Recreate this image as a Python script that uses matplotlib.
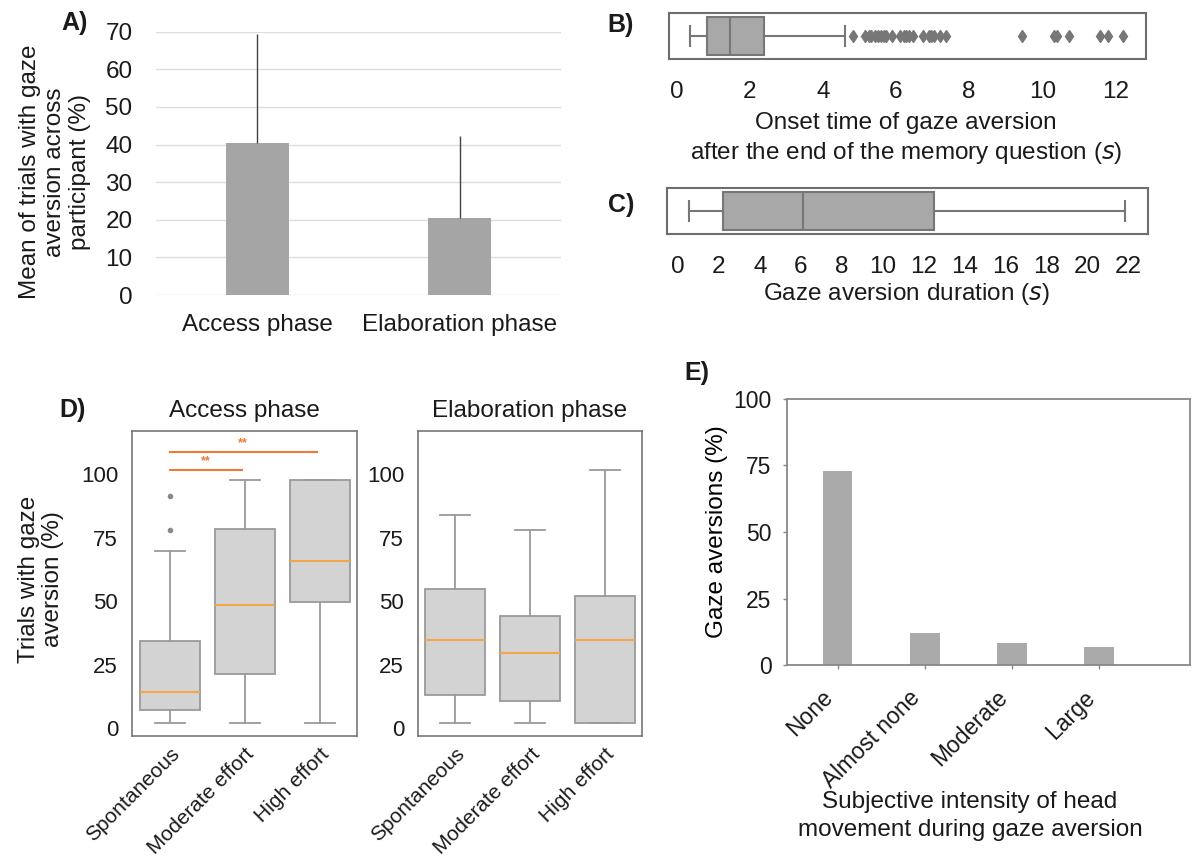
import matplotlib
matplotlib.use("Agg")
import matplotlib.pyplot as plt

plt.rcParams['font.family'] = ['Liberation Sans', 'DejaVu Sans']
plt.rcParams['text.color'] = '#1a1a1a'
plt.rcParams['xtick.color'] = '#1a1a1a'
plt.rcParams['ytick.color'] = '#1a1a1a'

# A) mean of trials with gaze aversion
phases = ["Access phase", "Elaboration phase"]
mean_trials = [40.5, 20.6]
sd_trials = [28.8, 21.8]

# B) onset time (s)
onset_box = [0.37, 0.84, 1.47, 2.4, 4.6]  # whislo, q1, med, q3, whishi
onset_outliers = [4.82, 5.15, 5.26, 5.32, 5.42, 5.5, 5.58, 5.66, 5.74, 5.89,
                  6.1, 6.21, 6.28, 6.36, 6.47, 6.74, 6.89, 6.97, 7.05, 7.21,
                  7.37, 9.44, 10.33, 10.4, 10.72, 11.58, 11.81, 12.21]
onset_ticks = [0, 2, 4, 6, 8, 10, 12]

# C) duration (s)
duration_box = [0.54, 2.2, 6.1, 12.48, 21.81]
duration_ticks = list(range(0, 23, 2))

# D) trials with gaze aversion per effort
effort = ["Spontaneous", "Moderate effort", "High effort"]
access_whislo = [2.2, 2.2, 2.2]
access_q1 = [7.2, 21.3, 49.9]
access_med = [14.4, 48.6, 66.0]
access_q3 = [34.4, 78.4, 97.8]
access_whishi = [69.9, 97.8, 97.8]
access_fliers = [[78.2, 91.6], [], []]

elab_whislo = [2.3, 2.3, 2.3]
elab_q1 = [13.2, 10.6, 2.3]
elab_med = [34.9, 29.6, 34.9]
elab_q3 = [54.9, 44.3, 51.9]
elab_whishi = [83.9, 77.9, 101.8]
elab_fliers = [[], [], []]

sig_pairs = [(1, 2), (1, 3)]
sig_y = [101.7, 108.6]
sig_text = ["**", "**"]

# E) head movement intensity
intensity = ["None", "Almost none", "Moderate", "Large"]
aversion_pct = [72.9, 12.1, 8.4, 6.6]

W, H = 1200, 863
fig = plt.figure(figsize=(W / 100, H / 100), dpi=100)


def px(x0, y0, x1, y1):
    return [x0 / W, 1 - y1 / H, (x1 - x0) / W, (y1 - y0) / H]


def box_stats(lo, q1, med, q3, hi, fl):
    return [dict(whislo=a, q1=b, med=c, q3=d, whishi=e, fliers=f)
            for a, b, c, d, e, f in zip(lo, q1, med, q3, hi, fl)]


# ---- A ----
axA = fig.add_axes(px(156, 31.7, 561, 295))
xa = range(len(phases))
axA.bar(xa, mean_trials, width=0.31, color='#a5a5a5', zorder=2)
axA.errorbar(xa, mean_trials, yerr=[[0, 0], sd_trials], fmt='none',
             ecolor='#444444', elinewidth=1, capsize=0, zorder=3)
axA.set_xlim(-0.5, 1.5)
axA.set_ylim(0, 70)
axA.set_yticks(range(0, 71, 10))
axA.yaxis.grid(True, color='#dedede', lw=1)
axA.set_axisbelow(True)
for s in axA.spines.values():
    s.set_visible(False)
axA.set_xticks(list(xa))
axA.set_xticklabels(phases)
axA.tick_params(axis='y', length=0, pad=17, labelsize=17.5)
axA.tick_params(axis='x', length=0, pad=14, labelsize=17.5)
fig.text(55 / W, 1 - 172 / H, "Mean of trials with gaze\naversion across\nparticipant (%)",
         rotation=90, ha='center', va='center', fontsize=17.5, linespacing=1.2)
fig.text(75 / W, 1 - 23 / H, "A)", fontsize=18, fontweight='bold', ha='center', va='center')

# ---- B / C ----
bc_box = dict(facecolor='#a8a8a8', edgecolor='#777777', linewidth=1.5)
bc_line = dict(color='#777777', linewidth=1.5)
bc_flier = dict(marker='d', markerfacecolor='#777777', markeredgecolor='#777777',
                markersize=6, linestyle='none')

axB = fig.add_axes(px(669, 13, 1146, 59))
statsB = box_stats([onset_box[0]], [onset_box[1]], [onset_box[2]], [onset_box[3]],
                   [onset_box[4]], [onset_outliers])
axB.bxp(statsB, positions=[0], widths=0.83, orientation='horizontal', patch_artist=True,
        boxprops=bc_box, whiskerprops=bc_line, capprops=bc_line,
        medianprops=bc_line, flierprops=bc_flier)
axB.set_xlim(-0.21, 12.84)
axB.set_ylim(-0.5, 0.5)
axB.set_yticks([])
axB.set_xticks(onset_ticks)
axB.set_xticklabels([str(t) for t in onset_ticks])
axB.tick_params(axis='x', length=0, pad=16, labelsize=17.5)
for s in axB.spines.values():
    s.set_color('#6e6e6e')
    s.set_linewidth(1.5)
fig.text(906 / W, 1 - 139 / H, "Onset time of gaze aversion\nafter the end of the memory question ($\\it{s}$)",
         ha='center', va='center', fontsize=17.5, linespacing=1.3)
fig.text(621 / W, 1 - 25 / H, "B)", fontsize=18, fontweight='bold', ha='center', va='center')

axC = fig.add_axes(px(667, 188, 1148, 234))
statsC = box_stats([duration_box[0]], [duration_box[1]], [duration_box[2]], [duration_box[3]],
                   [duration_box[4]], [[]])
axC.bxp(statsC, positions=[0], widths=0.83, orientation='horizontal', patch_artist=True,
        boxprops=bc_box, whiskerprops=bc_line, capprops=bc_line,
        medianprops=bc_line, flierprops=bc_flier)
axC.set_xlim(-0.53, 22.94)
axC.set_ylim(-0.5, 0.5)
axC.set_yticks([])
axC.set_xticks(duration_ticks)
axC.set_xticklabels([str(t) for t in duration_ticks])
axC.tick_params(axis='x', length=0, pad=16, labelsize=17.5)
for s in axC.spines.values():
    s.set_color('#6e6e6e')
    s.set_linewidth(1.5)
fig.text(906 / W, 1 - 294 / H, "Gaze aversion duration ($\\it{s}$)",
         ha='center', va='center', fontsize=17.5)
fig.text(621 / W, 1 - 205 / H, "C)", fontsize=18, fontweight='bold', ha='center', va='center')

# ---- D ----
d_box = dict(facecolor='#d3d3d3', edgecolor='#9a9a9a', linewidth=1.3)
d_line = dict(color='#9a9a9a', linewidth=1.3)
d_med = dict(color='#f5a54a', linewidth=1.5)
d_flier = dict(marker='o', markerfacecolor='#8a8a8a', markeredgecolor='#8a8a8a',
               markersize=3, linestyle='none')
pos = [1, 2, 3]


def draw_d(ax, stats, title):
    ax.bxp(stats, positions=pos, widths=0.8, patch_artist=True, boxprops=d_box,
           whiskerprops=d_line, capprops=d_line, medianprops=d_med, flierprops=d_flier)
    ax.set_xlim(0.5, 3.5)
    ax.set_ylim(-3, 117)
    ax.set_yticks([0, 25, 50, 75, 100])
    ax.set_xticks(pos)
    ax.set_xticklabels(effort, rotation=45, ha='right', rotation_mode='anchor')
    ax.tick_params(axis='y', length=0, pad=10, labelsize=16)
    ax.tick_params(axis='x', length=0, pad=6, labelsize=15)
    for s in ax.spines.values():
        s.set_color('#777777')
        s.set_linewidth(1.2)
    ax.set_title(title, fontsize=17.5, pad=10)


axD1 = fig.add_axes(px(132, 431, 357, 736))
draw_d(axD1, box_stats(access_whislo, access_q1, access_med, access_q3,
                       access_whishi, access_fliers), "Access phase")
for (a, b), y, t in zip(sig_pairs, sig_y, sig_text):
    axD1.plot([a, b - 0.03], [y, y], color='#f07a35', lw=1.5)
    axD1.text((a + b) / 2 - 0.02, y + 1.2, t, color='#f07a35', fontsize=9,
              ha='center', va='bottom', fontweight='bold')

axD2 = fig.add_axes(px(418, 431, 642, 736))
draw_d(axD2, box_stats(elab_whislo, elab_q1, elab_med, elab_q3,
                       elab_whishi, elab_fliers), "Elaboration phase")

fig.text(41 / W, 1 - 579 / H, "Trials with gaze\naversion (%)", rotation=90,
         ha='center', va='center', fontsize=17.5, linespacing=1.15)
fig.text(73 / W, 1 - 410 / H, "D)", fontsize=18, fontweight='bold', ha='center', va='center')

# ---- E ----
axE = fig.add_axes(px(787, 399, 1190, 665))
xe = range(len(intensity))
axE.bar(xe, aversion_pct, width=0.34, color='#aaaaaa')
axE.set_xlim(-0.58, 4.04)
axE.set_ylim(0, 100)
axE.set_yticks([0, 25, 50, 75, 100])
axE.set_xticks(list(xe))
axE.set_xticklabels(intensity, rotation=45, ha='right')
axE.tick_params(axis='both', length=3, width=1, color='#888888', labelsize=16.5)
axE.tick_params(axis='y', pad=8)
axE.tick_params(axis='x', pad=12)
for s in axE.spines.values():
    s.set_color('#888888')
    s.set_linewidth(1.3)
axE.set_ylabel("Gaze aversions (%)", fontsize=17.5, labelpad=4)
fig.text(970 / W, 1 - 816 / H, "Subjective intensity of head\nmovement during gaze aversion",
         ha='center', va='center', fontsize=17.5, linespacing=1.3)
fig.text(697 / W, 1 - 373 / H, "E)", fontsize=18, fontweight='bold', ha='center', va='center')

fig.savefig("out.png", dpi=100)
